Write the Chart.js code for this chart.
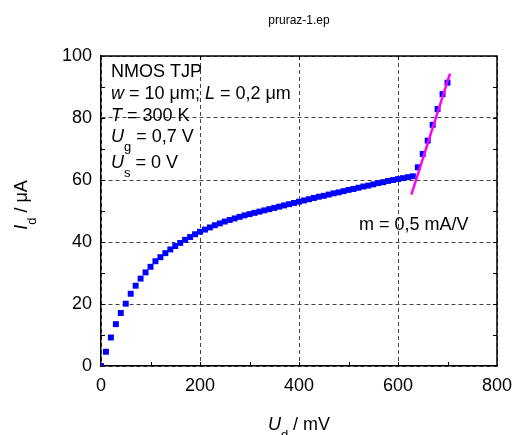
<!DOCTYPE html>
<html>
<head>
<meta charset="utf-8">
<script src="https://cdn.jsdelivr.net/npm/chart.js@4.4.1/dist/chart.umd.min.js"></script>
<style>
  html, body { margin: 0; padding: 0; background: #fff; }
  canvas { display: block; }
</style>
</head>
<body>
<canvas id="chart" width="514" height="435"></canvas>
<script>
// --- DATA ---
const udMv = [
  0, 10, 20, 30, 40, 50, 60, 70, 80, 90,
  100, 110, 120, 130, 140, 150, 160, 170, 180, 190,
  200, 210, 220, 230, 240, 250, 260, 270, 280, 290,
  300, 310, 320, 330, 340, 350, 360, 370, 380, 390,
  400, 410, 420, 430, 440, 450, 460, 470, 480, 490,
  500, 510, 520, 530, 540, 550, 560, 570, 580, 590,
  600, 610, 620, 630, 640, 650, 660, 670, 680, 690,
  700
];
const idUa = [
  0, 4.6, 9.2, 13.5, 17.1, 20.1, 23.3, 25.9, 28.2, 30.2,
  32.0, 33.8, 35.1, 36.4, 37.6, 38.7, 39.7, 40.7, 41.6, 42.5,
  43.3, 44.0, 44.7, 45.4, 46.0, 46.6, 47.1, 47.6, 48.1, 48.6,
  49.0, 49.4, 49.8, 50.2, 50.6, 51.0, 51.4, 51.8, 52.2, 52.6,
  53.0, 53.4, 53.8, 54.2, 54.6, 54.9, 55.3, 55.7, 56.0, 56.4,
  56.8, 57.1, 57.5, 57.9, 58.2, 58.6, 59.0, 59.3, 59.7, 60.0,
  60.3, 60.6, 60.9, 61.2, 64.1, 68.4, 72.7, 77.8, 82.9, 87.7,
  91.4
];

// breakdown tangent: m = 0,5 mA/V (= 0.5 uA per mV) through an anchor point
const fitSlope = 0.5;
const fitAnchor = [667, 75.3];
const fitRange = [627, 705];

const xTicks = [0, 200, 400, 600, 800];
const yTicks = [0, 20, 40, 60, 80, 100];
const xMinorBottom = [100, 200, 300, 400, 500, 600, 700];
const xMinorTop = [200, 400, 600];
const yMinor = [10, 20, 30, 40, 50, 60, 70, 80, 90];

const FONT = '"Liberation Sans", Arial, Helvetica, sans-serif';

const points = udMv.map((x, i) => ({ x: x, y: idUa[i] }));
const fitLine = fitRange.map(x => ({ x: x, y: fitAnchor[1] + fitSlope * (x - fitAnchor[0]) }));

// --- TEXT WITH ITALICS / SUBSCRIPTS ---
function partFont(p) {
  if (p.sub) return '13px ' + FONT;
  return (p.italic ? 'italic ' : '') + '18px ' + FONT;
}
function richWidth(ctx, parts) {
  let w = 0;
  parts.forEach(p => { ctx.font = partFont(p); w += ctx.measureText(p.t).width; });
  return w;
}
function drawRich(ctx, x, y, parts) {
  ctx.textAlign = 'left';
  ctx.textBaseline = 'alphabetic';
  parts.forEach(p => {
    ctx.font = partFont(p);
    ctx.fillText(p.t, x, p.sub ? y + 9 : y);
    x += ctx.measureText(p.t).width;
  });
}

const infoLines = [
  [{ t: 'NMOS TJP' }],
  [{ t: 'w', italic: true }, { t: ' = 10 μm; ' }, { t: 'L', italic: true }, { t: ' = 0,2 μm' }],
  [{ t: 'T', italic: true }, { t: ' = 300 K' }],
  [{ t: 'U', italic: true }, { t: 'g', sub: true }, { t: ' = 0,7 V' }],
  [{ t: 'U', italic: true }, { t: 's', sub: true }, { t: ' = 0 V' }]
];
const infoBaselines = [77, 99, 121, 142, 168];

const decor = {
  id: 'decor',
  afterDraw(chart) {
    const ctx = chart.ctx;
    const a = chart.chartArea;
    const xs = chart.scales.x, ys = chart.scales.y;
    ctx.save();
    ctx.fillStyle = '#000';
    ctx.strokeStyle = '#000';

    // frame top/right + inward ticks
    ctx.lineWidth = 1.5;
    ctx.beginPath();
    ctx.moveTo(a.left, a.top); ctx.lineTo(a.right, a.top); ctx.lineTo(a.right, a.bottom);
    ctx.stroke();
    ctx.lineWidth = 1;
    ctx.beginPath();
    yMinor.forEach(v => {
      const py = Math.round(ys.getPixelForValue(v)) + 0.5;
      ctx.moveTo(a.left, py); ctx.lineTo(a.left + 4, py);
      ctx.moveTo(a.right, py); ctx.lineTo(a.right - 4, py);
    });
    xMinorBottom.forEach(v => {
      const px = Math.round(xs.getPixelForValue(v)) + 0.5;
      ctx.moveTo(px, a.bottom); ctx.lineTo(px, a.bottom - 4);
    });
    xMinorTop.forEach(v => {
      const px = Math.round(xs.getPixelForValue(v)) + 0.5;
      ctx.moveTo(px, a.top); ctx.lineTo(px, a.top + 4);
    });
    ctx.stroke();

    // file title
    ctx.font = '12px ' + FONT;
    ctx.textAlign = 'center';
    ctx.textBaseline = 'alphabetic';
    ctx.fillText('pruraz-1.ep', (a.left + a.right) / 2, 24);

    // parameter block
    infoLines.forEach((ln, i) => drawRich(ctx, 111, infoBaselines[i], ln));

    // slope label
    drawRich(ctx, 359, 230, [{ t: 'm = 0,5 mA/V' }]);

    // x axis title
    const xt = [{ t: 'U', italic: true }, { t: 'd', sub: true }, { t: ' / mV' }];
    drawRich(ctx, (a.left + a.right) / 2 - richWidth(ctx, xt) / 2, 430, xt);

    // y axis title
    const yt = [{ t: 'I', italic: true }, { t: 'd', sub: true }, { t: ' / μA' }];
    ctx.save();
    ctx.translate(27, 205);
    ctx.rotate(-Math.PI / 2);
    drawRich(ctx, -richWidth(ctx, yt) / 2, 0, yt);
    ctx.restore();

    ctx.restore();
  }
};

new Chart(document.getElementById('chart'), {
  type: 'scatter',
  data: {
    datasets: [
      {
        type: 'line',
        data: fitLine,
        borderColor: '#ff00ff',
        borderWidth: 2.5,
        pointRadius: 0,
        showLine: true,
        fill: false,
        order: 0
      },
      {
        data: points,
        pointStyle: 'rect',
        pointRadius: 4.2,
        pointBorderWidth: 0,
        backgroundColor: '#0000ff',
        borderColor: '#0000ff',
        showLine: false,
        order: 1
      }
    ]
  },
  options: {
    responsive: false,
    animation: false,
    devicePixelRatio: 1,
    layout: { padding: { left: 0, top: 56, right: 17, bottom: 0 } },
    plugins: { legend: { display: false }, tooltip: { enabled: false }, title: { display: false } },
    scales: {
      x: {
        type: 'linear',
        min: 0, max: 800,
        afterFit: s => { s.height = 69; s.paddingLeft = 0; s.paddingRight = 0; },
        afterBuildTicks: s => { s.ticks = xTicks.map(v => ({ value: v })); },
        ticks: { color: '#000', padding: 9, font: { family: FONT, size: 18 }, maxRotation: 0 },
        grid: { color: '#444', lineWidth: 1, drawTicks: false },
        border: { display: true, color: '#000', width: 1.5, dash: [4, 3] }
      },
      y: {
        type: 'linear',
        min: 0, max: 100,
        afterFit: s => { s.width = 101; s.paddingTop = 0; s.paddingBottom = 0; },
        afterBuildTicks: s => { s.ticks = yTicks.map(v => ({ value: v })); },
        ticks: { color: '#000', padding: 9, font: { family: FONT, size: 18 } },
        grid: { color: '#444', lineWidth: 1, drawTicks: false },
        border: { display: true, color: '#000', width: 1.5, dash: [4, 3] }
      }
    }
  },
  plugins: [decor]
});
</script>
</body>
</html>
